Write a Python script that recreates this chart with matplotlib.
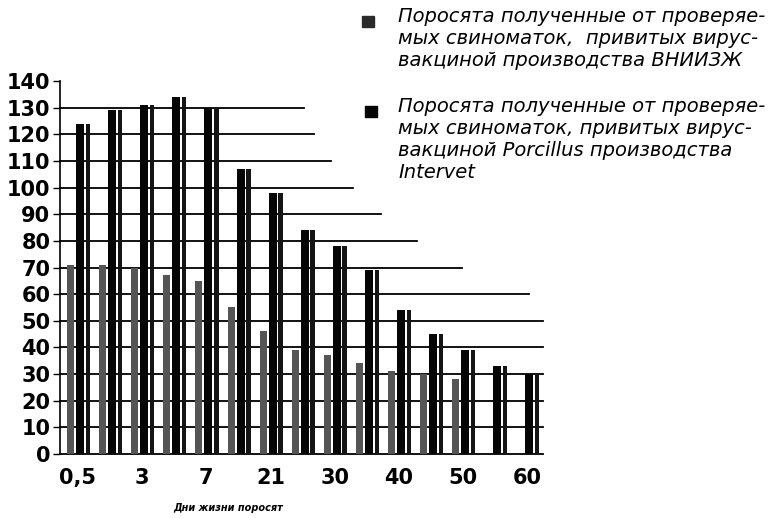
import numpy as np
import matplotlib
matplotlib.use("Agg")
import matplotlib.pyplot as plt
from matplotlib.patches import Rectangle
from matplotlib.font_manager import FontProperties

# days of life (only every other group is labelled in the source)
days = ["0,5", "", "3", "", "7", "", "21", "", "30", "", "40", "", "50", "", "60"]
# piglets from sows vaccinated with VNIIZZh vaccine (front, grey bars)
vniizzh = [71, 71, 70, 67, 65, 55, 46, 39, 37, 34, 31, 30, 28, np.nan, np.nan]
# piglets from sows vaccinated with Porcillus (Intervet) (back, dark bars)
porcillus = [124, 129, 131, 134, 130, 107, 98, 84, 78, 69, 54, 45, 39, 33, 30]

label1 = "Поросята полученные от проверяе-\nмых свиноматок,  привитых вирус-\nвакциной производства ВНИИЗЖ"
label2 = "Поросята полученные от проверяе-\nмых свиноматок, привитых вирус-\nвакциной Porcillus производства\nIntervet"

grid_levels = [0, 10, 20, 30, 40, 50, 60, 70, 80, 90, 100, 110, 120, 130]
grid_ends = [1, 1, 1, 1, 1, 1, 0.971, 0.832, 0.739, 0.665, 0.607, 0.561, 0.526, 0.505]

fig = plt.figure(figsize=(7.77, 5.18), dpi=100)
ax = fig.add_axes([60 / 777, 1 - 454 / 518, 483 / 777, 373 / 518])

x = np.arange(len(days))

# grey bars (front series)
ax.bar(x - 0.23, vniizzh, width=0.22, color="#555555", zorder=3)
# dark bars: face + narrow side part, thin white gap between them
ax.bar(x + 0.065, porcillus, width=0.25, color="#050505", zorder=3)
ax.bar(x + 0.31, porcillus, width=0.14, color="#151515", zorder=3)

# horizontal lines ending at different points
for lv, end in zip(grid_levels, grid_ends):
    ax.plot([0, end], [lv, lv], transform=ax.get_yaxis_transform(),
            color="black", lw=1.3, zorder=1, clip_on=False)

ax.set_xlim(-0.56, 14.49)
ax.set_ylim(0, 140)
ax.set_yticks(np.arange(0, 141, 10))
ax.set_xticks(x)
ax.set_xticklabels(days)

tick_fp = FontProperties(family="DejaVu Sans", weight="bold", size=15)
for t in ax.get_yticklabels() + ax.get_xticklabels():
    t.set_fontproperties(tick_fp)

ax.tick_params(axis="y", direction="out", length=5, width=1, pad=2)
ax.tick_params(axis="x", length=0, pad=10)
for s in ["top", "right", "bottom"]:
    ax.spines[s].set_visible(False)
ax.spines["left"].set_linewidth(1.2)

fig.text(228 / 777, 1 - 508 / 518, "Дни жизни поросят", ha="center", va="center",
         fontsize=7, fontweight="bold", style="italic", family="DejaVu Sans")

# legend
fig.add_artist(Rectangle((362 / 777, 1 - 27 / 518), 12 / 777, 11 / 518,
                         transform=fig.transFigure, color="#2a2a2a"))
fig.add_artist(Rectangle((365 / 777, 1 - 117 / 518), 12 / 777, 11 / 518,
                         transform=fig.transFigure, color="#050505"))
fig.text(398 / 777, 1 - 7 / 518, label1, ha="left", va="top", fontsize=14,
         style="italic", family="DejaVu Sans", linespacing=1.2)
fig.text(398 / 777, 1 - 97 / 518, label2, ha="left", va="top", fontsize=14,
         style="italic", family="DejaVu Sans", linespacing=1.2)

fig.savefig("out.png", dpi=100)
